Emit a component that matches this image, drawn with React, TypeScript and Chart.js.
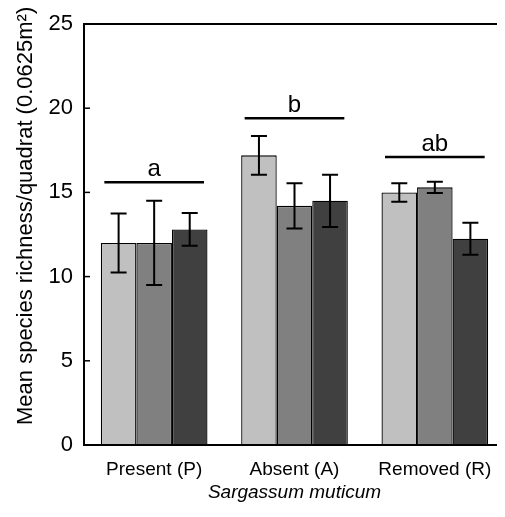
import React, { useEffect, useRef } from "react";
import { Chart, registerables } from "chart.js";

Chart.register(...registerables);

const categories = ["Present (P)", "Absent (A)", "Removed (R)"];
const seriesLight = [12.0, 17.2, 15.0];
const seriesMid = [12.0, 14.2, 15.3];
const seriesDark = [12.8, 14.5, 12.25];
const errLight = [1.75, 1.15, 0.55];
const errMid = [2.5, 1.35, 0.33];
const errDark = [0.97, 1.55, 0.95];
const sigLevels = [15.6, 19.4, 17.1];
const sigLetters = ["a", "b", "ab"];
const yTicks = [0, 5, 10, 15, 20, 25];
const yTitle = "Mean species richness/quadrat (0.0625m\u00B2)";
const xTitle = "Sargassum muticum";

const FONT = "'Liberation Sans', Arial, Helvetica, sans-serif";

const overlay = {
  id: "overlay",
  afterDatasetsDraw(chart: any) {
    const ctx = chart.ctx;
    const area = chart.chartArea;
    const ys = chart.scales.y;
    const errs = [errLight, errMid, errDark];
    ctx.save();
    // error bars
    ctx.strokeStyle = "#000";
    ctx.lineWidth = 2;
    chart.data.datasets.forEach((ds: any, i: number) => {
      const meta = chart.getDatasetMeta(i);
      meta.data.forEach((bar: any, j: number) => {
        const v = ds.data[j];
        const e = errs[i][j];
        const x = bar.x;
        const yt = ys.getPixelForValue(v + e);
        const yb = ys.getPixelForValue(v - e);
        ctx.beginPath();
        ctx.moveTo(x, yt);
        ctx.lineTo(x, yb);
        ctx.moveTo(x - 8, yt);
        ctx.lineTo(x + 8, yt);
        ctx.moveTo(x - 8, yb);
        ctx.lineTo(x + 8, yb);
        ctx.stroke();
      });
    });
    // significance lines
    const m0 = chart.getDatasetMeta(0);
    const m2 = chart.getDatasetMeta(2);
    ctx.lineWidth = 2.5;
    ctx.fillStyle = "#000";
    ctx.font = `24px ${FONT}`;
    ctx.textAlign = "center";
    ctx.textBaseline = "alphabetic";
    sigLevels.forEach((lvl, j) => {
      const b0 = m0.data[j];
      const b2 = m2.data[j];
      const x0 = b0.x - b0.width / 2 + 3.5;
      const x1 = b2.x + b2.width / 2 - 3.5;
      const y = ys.getPixelForValue(lvl);
      ctx.beginPath();
      ctx.moveTo(x0, y);
      ctx.lineTo(x1, y);
      ctx.stroke();
      ctx.fillText(sigLetters[j], (x0 + x1) / 2, y - 6);
    });
    // frame
    ctx.lineWidth = 2;
    ctx.beginPath();
    ctx.moveTo(area.right, area.top);
    ctx.lineTo(area.left, area.top);
    ctx.lineTo(area.left, area.bottom);
    ctx.lineTo(area.right, area.bottom);
    ctx.stroke();
    // inward ticks
    ctx.lineWidth = 1.5;
    yTicks.forEach((t) => {
      if (t === 0 || t === 25) return;
      const y = ys.getPixelForValue(t);
      ctx.beginPath();
      ctx.moveTo(area.left, y);
      ctx.lineTo(area.left + 6, y);
      ctx.stroke();
    });
    // y title
    ctx.save();
    ctx.font = `22px ${FONT}`;
    ctx.textAlign = "left";
    ctx.textBaseline = "middle";
    ctx.translate(18, 417);
    ctx.rotate(-Math.PI / 2);
    ctx.fillText(yTitle, 0, 0);
    ctx.restore();
    // x title
    ctx.font = `italic 19px ${FONT}`;
    ctx.textAlign = "center";
    ctx.textBaseline = "middle";
    ctx.fillText(xTitle, (area.left + area.right) / 2, 485);
    ctx.restore();
  },
};

export default function App() {
  const ref = useRef<HTMLCanvasElement>(null);
  useEffect(() => {
    if (!ref.current) return;
    const mk = (data: number[], color: string) => ({
      data,
      backgroundColor: color,
      borderColor: "#000",
      borderWidth: 1.3,
      categoryPercentage: 0.76,
      barPercentage: 1.0,
    });
    const chart = new Chart(ref.current, {
      type: "bar",
      data: {
        labels: categories,
        datasets: [
          mk(seriesLight, "#c0c0c0"),
          mk(seriesMid, "#808080"),
          mk(seriesDark, "#404040"),
        ],
      },
      options: {
        responsive: true,
        maintainAspectRatio: false,
        animation: false,
        layout: { padding: { top: 16, left: 0, right: 0, bottom: 0 } },
        plugins: { legend: { display: false }, tooltip: { enabled: false } },
        scales: {
          x: {
            type: "category",
            grid: { display: false, drawTicks: false },
            border: { display: false },
            ticks: { color: "#000", font: { size: 19, family: FONT }, padding: 13 },
            afterFit: (axis: any) => {
              axis.height = 72;
              axis.paddingLeft = 0;
              axis.paddingRight = 0;
            },
          },
          y: {
            min: 0,
            max: 25,
            grid: { display: false, drawTicks: false },
            border: { display: false },
            afterBuildTicks: (axis: any) => {
              axis.ticks = yTicks.map((v) => ({ value: v }));
            },
            ticks: { color: "#000", font: { size: 22, family: FONT }, padding: 11 },
            afterFit: (axis: any) => {
              axis.width = 76;
              axis.paddingTop = 0;
              axis.paddingBottom = 0;
            },
          },
        },
      },
      plugins: [overlay],
    });
    return () => chart.destroy();
  }, []);
  return (
    <div style={{ width: 497, height: 509, position: "relative" }}>
      <canvas ref={ref} />
    </div>
  );
}
